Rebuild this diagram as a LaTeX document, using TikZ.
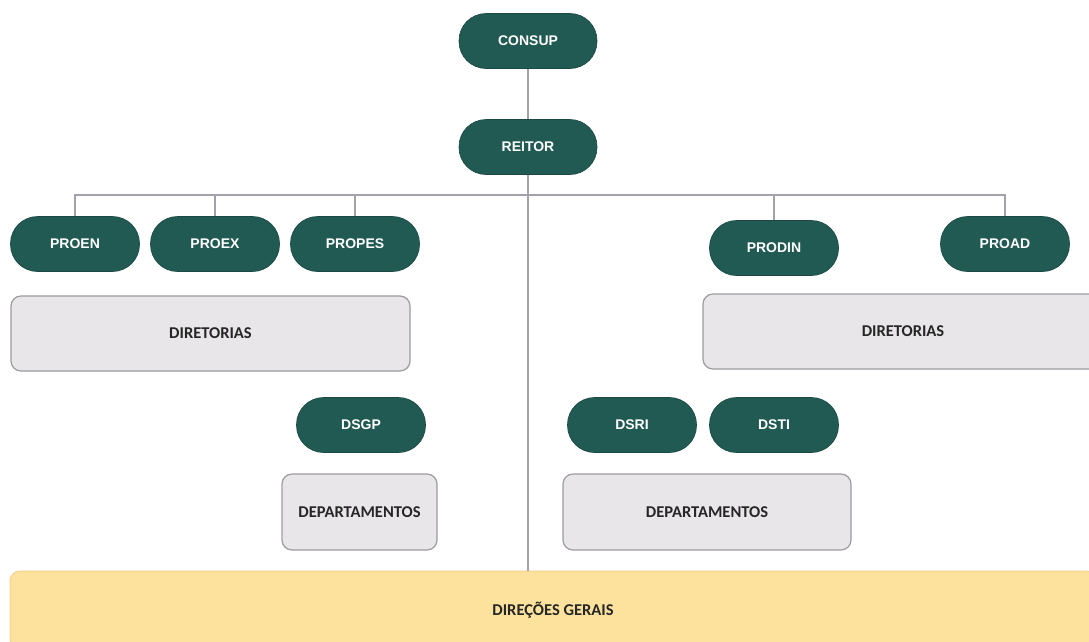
\documentclass[tikz,border=0pt]{standalone}
\usepackage{fontspec}
\setmainfont{Liberation Sans}
\newfontfamily\boxfont{Carlito}
\begin{document}
\begin{tikzpicture}[x=1pt,y=-1pt,
  pill/.style={fill=pillgreen, draw=pillgreen!80!black, line width=0.6pt,
    rounded corners=27pt, minimum width=129pt, minimum height=55pt,
    text=white, font=\fontsize{14}{16}\selectfont\bfseries, inner sep=0pt},
  graybox/.style={fill=boxgray, draw=boxedge, line width=1.2pt,
    rounded corners=10pt, inner sep=0pt,
    font=\boxfont\fontsize{16.5}{18}\selectfont\bfseries, text=black!85},
  link/.style={draw=linegray, line width=1.4pt}]
\definecolor{pillgreen}{HTML}{215A52}
\definecolor{boxgray}{HTML}{E8E6E8}
\definecolor{boxedge}{HTML}{9C9CA0}
\definecolor{linegray}{HTML}{A2A2AC}
\definecolor{yellowfill}{HTML}{FCE29C}
\definecolor{yellowedge}{HTML}{F3D48A}
\useasboundingbox (0,0) rectangle (1089,641);
\fill[white] (0,0) rectangle (1089,641);

% top of the hierarchy
\node[pill, minimum width=138pt] (consup) at (528,41) {CONSUP};
\node[pill, minimum width=138pt] (reitor) at (528,147) {REITOR};

% pro-rectorates
\node[pill] (proen)  at (75,244)  {PROEN};
\node[pill] (proex)  at (215,244) {PROEX};
\node[pill] (propes) at (355,244) {PROPES};
\node[pill] (prodin) at (774,248) {PRODIN};
\node[pill] (proad)  at (1005,244) {PROAD};

% directorates
\node[graybox, minimum width=399pt, minimum height=75pt] (dirl) at (210.5,333.5) {DIRETORIAS};
\node[graybox, minimum width=400pt, minimum height=75pt] (dirr) at (903,331.5) {DIRETORIAS};

% systemic directorates
\node[pill] (dsgp) at (361,425) {DSGP};
\node[pill] (dsri) at (632,425) {DSRI};
\node[pill] (dsti) at (774,425) {DSTI};

% departments
\node[graybox, minimum width=155pt, minimum height=76pt] (depl) at (359.5,512) {DEPARTAMENTOS};
\node[graybox, minimum width=288pt, minimum height=76pt] (depr) at (707,512) {DEPARTAMENTOS};

% general directions
\node[fill=yellowfill, draw=yellowedge, line width=1pt, rounded corners=10pt,
  minimum width=1086pt, minimum height=78pt, inner sep=0pt,
  font=\boxfont\fontsize{16.5}{18}\selectfont\bfseries, text=black!85]
  (dg) at (553,610) {DIREÇÕES GERAIS};

% connectors
\coordinate (bus) at (528,195);
\draw[link] (consup.south) -- (reitor.north);
\draw[link] (reitor.south) -- (reitor.south |- dg.north);
\draw[link] (bus) -| (proen.north);
\draw[link] (bus) -| (proex.north);
\draw[link] (bus) -| (propes.north);
\draw[link] (bus) -| (prodin.north);
\draw[link] (bus) -| (proad.north);
\end{tikzpicture}
\end{document}
